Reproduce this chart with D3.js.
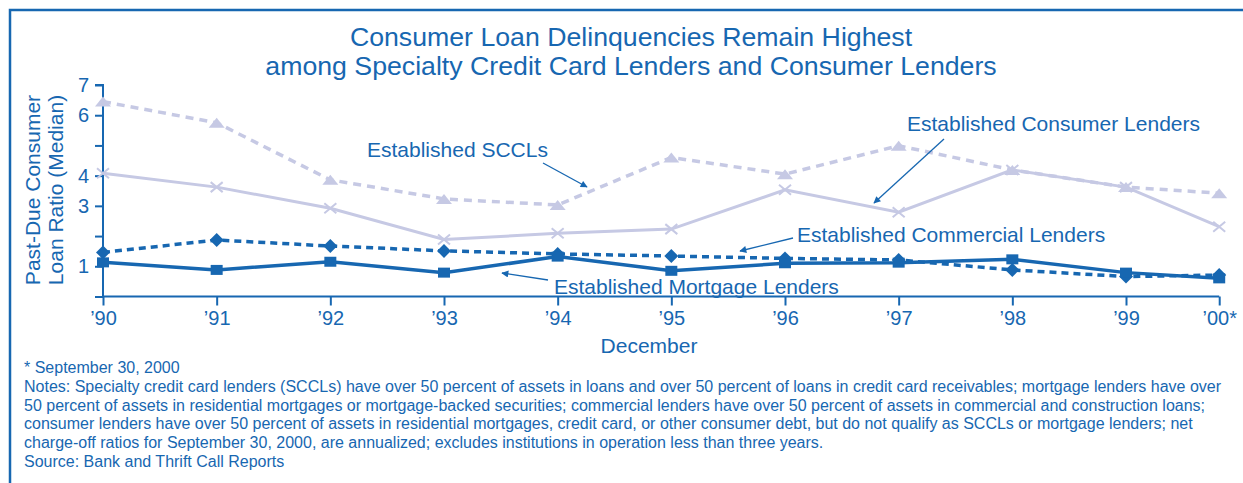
<!DOCTYPE html>
<meta charset="utf-8">
<style>
body {
  margin: 0px;
  background: white;
  font-family: "Liberation Sans", Arial, sans-serif;
}
text {
  fill: #1767b1;
}
.title {
  font-size: 26.7px;
}
.tick text {
  font-size: 20px;
}
.note {
  font-size: 16px;
}
.label {
  font-size: 21px;
}
</style>
<body>
<script src="https://d3js.org/d3.v7.min.js"></script>
<script>
var width = 1243,
    height = 483

var blue = "#1767b1",
    lavender = "#c6c9e4"

// x positions in years since Dec '90; last point is Sept 30, 2000
var years = [0, 1, 2, 3, 4, 5, 6, 7, 8, 9, 9.82]
var yearLabels = ["\u201990", "\u201991", "\u201992", "\u201993", "\u201994", "\u201995",
                  "\u201996", "\u201997", "\u201998", "\u201999", "\u201900*"]

var sccl       = [6.45, 5.75, 3.86, 3.23, 3.03, 4.60, 4.05, 4.99, 4.19, 3.62, 3.42]
var consumer   = [4.08, 3.62, 2.92, 1.89, 2.09, 2.23, 3.53, 2.79, 4.19, 3.62, 2.31]
var commercial = [1.46, 1.87, 1.67, 1.51, 1.41, 1.34, 1.26, 1.21, 0.88, 0.66, 0.71]
var mortgage   = [1.13, 0.88, 1.15, 0.79, 1.32, 0.85, 1.10, 1.12, 1.23, 0.79, 0.60]

var yTicks = [0, 1, 2, 3, 4, 5, 6, 7]
var yShown = [1, 3, 4, 6, 7]

var notes = [
  "* September 30, 2000",
  "Notes: Specialty credit card lenders (SCCLs) have over 50 percent of assets in loans and over 50 percent of loans in credit card receivables; mortgage lenders have over",
  "50 percent of assets in residential mortgages or mortgage-backed securities; commercial lenders have over 50 percent of assets in commercial and construction loans;",
  "consumer lenders have over 50 percent of assets in residential mortgages, credit card, or other consumer debt, but do not qualify as SCCLs or mortgage lenders; net",
  "charge-off ratios for September 30, 2000, are annualized; excludes institutions in operation less than three years.",
  "Source: Bank and Thrift Call Reports"
]

var svg = d3.select("body").append("svg")
    .attr("width", width)
    .attr("height", height)

// frame: top and left rules
svg.append("path")
    .attr("d", "M10," + height + "V10H" + width)
    .attr("fill", "none")
    .attr("stroke", blue)
    .attr("stroke-width", 2.5)

var x = d3.scaleLinear()
    .domain([0, 9])
    .range([103, 1126])

var y = d3.scaleLinear()
    .domain([0, 7])
    .range([296.5, 85])

// title
svg.append("text")
    .attr("class", "title")
    .attr("x", 631)
    .attr("y", 46)
    .attr("text-anchor", "middle")
    .text("Consumer Loan Delinquencies Remain Highest")
svg.append("text")
    .attr("class", "title")
    .attr("x", 631)
    .attr("y", 75)
    .attr("text-anchor", "middle")
    .text("among Specialty Credit Card Lenders and Consumer Lenders")

// axes
var xAxis = d3.axisBottom(x)
    .tickValues(years)
    .tickSize(9)
    .tickPadding(5)
    .tickFormat(function(d, i) { return yearLabels[i] })

var yAxis = d3.axisLeft(y)
    .tickValues(yTicks)
    .tickSize(8)
    .tickPadding(6)
    .tickFormat(function(d) { return yShown.indexOf(d) >= 0 ? d : "" })

var gx = svg.append("g")
    .attr("transform", "translate(0," + y(0) + ")")
    .call(xAxis)
gx.select(".domain").attr("d", "M" + x(0) + ",0H" + x(9.82))

var gy = svg.append("g")
    .attr("transform", "translate(" + x(0) + ",0)")
    .call(yAxis)
gy.select(".domain").attr("d", "M-8," + y(7) + "H0V" + y(0))

svg.selectAll(".domain, .tick line")
    .attr("stroke", blue)
    .attr("stroke-width", 2)
svg.selectAll(".tick text")
    .attr("fill", blue)
    .style("font-family", "Liberation Sans, Arial, sans-serif")

svg.append("text")
    .attr("class", "label")
    .attr("x", 649)
    .attr("y", 353)
    .attr("text-anchor", "middle")
    .text("December")

// y axis title
var yt = svg.append("text")
    .attr("class", "label")
    .attr("transform", "translate(40,190) rotate(-90)")
    .attr("text-anchor", "middle")
yt.append("tspan").attr("x", 0).attr("y", 0).text("Past-Due Consumer")
yt.append("tspan").attr("x", 0).attr("y", 23).text("Loan Ratio (Median)")

// series lines
var line = d3.line()
    .x(function(d, i) { return x(years[i]) })
    .y(function(d) { return y(d) })

var series = [
  { values: sccl, color: lavender, dash: "8,6", width: 3.5, marker: "triangle" },
  { values: consumer, color: lavender, dash: null, width: 3, marker: "x" },
  { values: commercial, color: blue, dash: "7,5", width: 3.5, marker: "diamond" },
  { values: mortgage, color: blue, dash: null, width: 3.5, marker: "square" }
]

series.forEach(function(s) {
  svg.append("path")
      .datum(s.values)
      .attr("fill", "none")
      .attr("stroke", s.color)
      .attr("stroke-width", s.width)
      .attr("stroke-dasharray", s.dash)
      .attr("d", line)

  var g = svg.append("g")
  g.selectAll("path")
      .data(s.values)
      .enter()
      .append("path")
      .attr("transform", function(d, i) { return "translate(" + x(years[i]) + "," + y(d) + ")" })
      .each(function() {
        var m = d3.select(this)
        if (s.marker == "triangle") {
          m.attr("d", "M-8,5L0,-5L8,5Z").attr("fill", s.color)
        } else if (s.marker == "x") {
          m.attr("d", "M-6,-5L6,5M-6,5L6,-5").attr("stroke", s.color).attr("stroke-width", 2).attr("fill", "none")
        } else if (s.marker == "diamond") {
          m.attr("d", "M0,-7L7,0L0,7L-7,0Z").attr("fill", s.color)
        } else {
          m.attr("d", "M-6,-5H6V5H-6Z").attr("fill", s.color)
        }
      })
})

// annotations with arrows
svg.append("defs").append("marker")
    .attr("id", "arrow")
    .attr("viewBox", "0 0 10 10")
    .attr("refX", 9)
    .attr("refY", 5)
    .attr("markerWidth", 11)
    .attr("markerHeight", 7)
    .attr("markerUnits", "userSpaceOnUse")
    .attr("orient", "auto")
  .append("path")
    .attr("d", "M0,0L10,5L0,10Z")
    .attr("fill", blue)

var labels = [
  { text: "Established SCCLs", tx: 367, ty: 157, from: [543, 163], to: [587, 187] },
  { text: "Established Consumer Lenders", tx: 907, ty: 131, from: [944, 139], to: [874, 203] },
  { text: "Established Commercial Lenders", tx: 797, ty: 242, from: [793, 238], to: [740, 251] },
  { text: "Established Mortgage Lenders", tx: 554, ty: 294, from: [548, 280], to: [502, 273] }
]

labels.forEach(function(l) {
  svg.append("text")
      .attr("class", "label")
      .attr("x", l.tx)
      .attr("y", l.ty)
      .text(l.text)
  svg.append("line")
      .attr("x1", l.from[0]).attr("y1", l.from[1])
      .attr("x2", l.to[0]).attr("y2", l.to[1])
      .attr("stroke", blue)
      .attr("stroke-width", 1.3)
      .attr("marker-end", "url(#arrow)")
})

// footnotes
svg.selectAll(".note")
    .data(notes)
    .enter()
    .append("text")
    .attr("class", "note")
    .attr("x", 24)
    .attr("y", function(d, i) { return 373 + i * 18.8 })
    .text(function(d) { return d })
</script>
